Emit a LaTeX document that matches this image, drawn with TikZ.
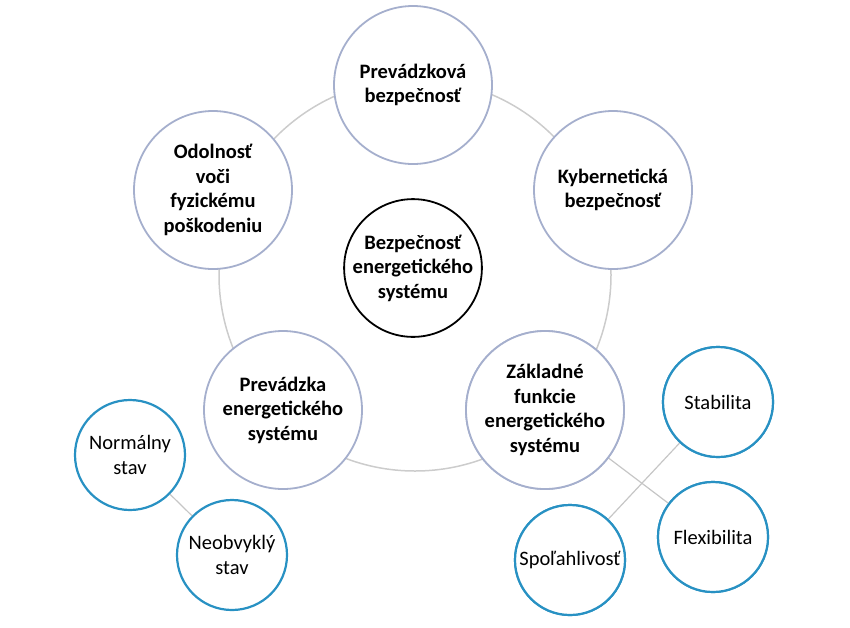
\documentclass[tikz,border=0pt]{standalone}
\usepackage{fontspec}
\setmainfont{Carlito}
\definecolor{rimc}{RGB}{165,175,205}
\definecolor{bluc}{RGB}{40,145,195}
\begin{document}
\begin{tikzpicture}[x=1pt,y=-1pt,
 big/.style={circle,draw=rimc,line width=1.8pt,fill=white,minimum size=158pt,align=center,font=\bfseries\fontsize{20.5}{24.5}\selectfont,inner sep=0pt},
 blu/.style={circle,draw=bluc,line width=2.2pt,fill=white,minimum size=110pt,align=center,font=\fontsize{20.5}{24.5}\selectfont,inner sep=0pt},
 lnk/.style={draw=gray!45,line width=1.2pt}]
\useasboundingbox (0,0) rectangle (850,627);
\draw[gray!40,line width=1.5pt] (415,275) circle (196);
\node[blu] (nor) at (130,455) {Normálny\\stav};
\node[blu] (neo) at (232,555) {Neobvyklý\\stav};
\draw[lnk] (nor) -- (neo);
\node[blu] (sta) at (718,402) {Stabilita};
\node[blu] (fle) at (713,537) {Flexibilita};
\node[blu] (spo) at (570,560) {Spoľahlivosť};
\node[big] (zak) at (545,410) {Základné\\funkcie\\energetického\\systému};
\draw[lnk] (sta) -- (spo);
\draw[lnk] (zak) -- (fle);
\node[blu] at (718,402) {Stabilita};
\node[blu] at (570,560) {Spoľahlivosť};
\node[blu] at (713,537) {Flexibilita};
\node[big] at (545,410) {Základné\\funkcie\\energetického\\systému};
\node[big] (top) at (413,85) {Prevádzková\\bezpečnosť};
\node[big] (kyb) at (613,190) {Kybernetická\\bezpečnosť};
\node[big] (odo) at (213,190) {Odolnosť\\voči\\fyzickému\\poškodeniu};
\node[big] (pre) at (283,410) {Prevádzka\\energetického\\systému};
\node[circle,draw=black,line width=1.8pt,minimum size=130pt,align=center,font=\bfseries\fontsize{20.5}{24.5}\selectfont,inner sep=0pt] (cen) at (413,268) {Bezpečnosť\\energetického\\systému};
\end{tikzpicture}
\end{document}
